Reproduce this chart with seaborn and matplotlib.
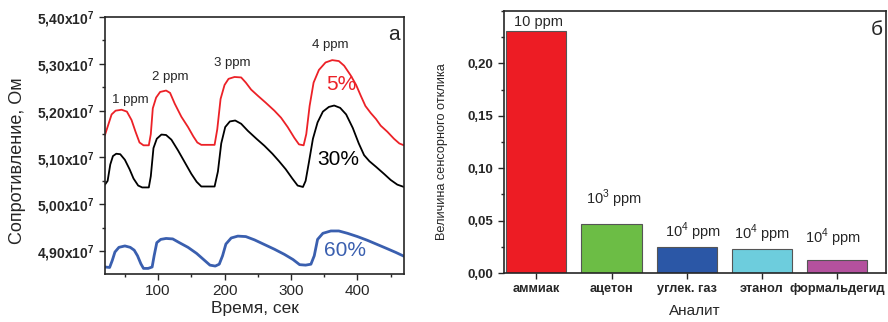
import numpy as np
import pandas as pd
import seaborn as sns
import matplotlib.pyplot as plt
from matplotlib.ticker import FixedLocator, MultipleLocator

# --- panel a: resistance vs time (values in 1e7 Ohm) ---
t_5 = [20, 25, 30, 36, 45, 53, 60, 66, 72, 78, 86, 89, 92, 97, 103, 112, 118, 125, 135, 145,
       153, 159, 165, 185, 189, 194, 200, 206, 215, 225, 232, 240, 250, 262, 275, 285, 295, 305,
       312, 319, 323, 328, 334, 342, 352, 362, 372, 380, 390, 398, 405, 412, 420, 428, 435, 445,
       455, 463, 470]
r_5 = [5.148, 5.17, 5.192, 5.200, 5.202, 5.198, 5.18, 5.155, 5.132, 5.126, 5.126, 5.15, 5.205,
       5.228, 5.240, 5.243, 5.238, 5.215, 5.187, 5.165, 5.145, 5.132, 5.127, 5.127, 5.16, 5.225,
       5.255, 5.268, 5.272, 5.271, 5.26, 5.245, 5.232, 5.217, 5.20, 5.185, 5.165, 5.142, 5.128,
       5.126, 5.150, 5.21, 5.26, 5.287, 5.303, 5.308, 5.306, 5.296, 5.275, 5.255, 5.232, 5.21,
       5.195, 5.182, 5.168, 5.155, 5.140, 5.130, 5.126]

t_30 = [20, 24, 28, 32, 37, 43, 50, 57, 63, 70, 76, 86, 89, 93, 98, 105, 112, 120, 130, 140,
        150, 158, 165, 185, 190, 195, 201, 208, 216, 225, 235, 248, 260, 272, 282, 292, 302, 310,
        318, 322, 327, 333, 340, 348, 357, 365, 374, 383, 393, 402, 410, 418, 428, 440, 450, 460,
        470]
r_30 = [5.042, 5.05, 5.085, 5.103, 5.108, 5.107, 5.095, 5.075, 5.055, 5.040, 5.036, 5.036, 5.06,
        5.12, 5.140, 5.149, 5.148, 5.138, 5.115, 5.090, 5.065, 5.048, 5.038, 5.038, 5.07, 5.13,
        5.165, 5.177, 5.179, 5.172, 5.157, 5.140, 5.125, 5.108, 5.092, 5.075, 5.055, 5.040, 5.037,
        5.05, 5.09, 5.14, 5.175, 5.198, 5.208, 5.211, 5.206, 5.192, 5.163, 5.130, 5.105, 5.092,
        5.080, 5.065, 5.052, 5.042, 5.037]

t_60 = [20, 27, 31, 35, 41, 50, 58, 64, 69, 74, 78, 85, 91, 94, 98, 104, 112, 122, 132, 145,
        158, 170, 178, 186, 192, 197, 202, 210, 220, 232, 245, 260, 275, 290, 303, 313, 322, 330,
        335, 340, 348, 360, 372, 385, 400, 415, 430, 445, 458, 470]
r_60 = [4.866, 4.865, 4.88, 4.898, 4.908, 4.911, 4.908, 4.902, 4.89, 4.873, 4.863, 4.863, 4.866,
        4.89, 4.918, 4.925, 4.927, 4.926, 4.918, 4.908, 4.895, 4.880, 4.870, 4.868, 4.872, 4.89,
        4.915, 4.928, 4.932, 4.931, 4.924, 4.914, 4.904, 4.893, 4.882, 4.871, 4.870, 4.872, 4.89,
        4.925, 4.938, 4.943, 4.943, 4.938, 4.931, 4.923, 4.914, 4.905, 4.897, 4.889]

ppm_labels = ['1 ppm', '2 ppm', '3 ppm', '4 ppm']
ppm_x = [58, 118, 212, 359]
ppm_y = [5.223, 5.272, 5.302, 5.34]

y_ticks_a = [4.90, 5.00, 5.10, 5.20, 5.30, 5.40]
y_ticklabels_a = [r'$\mathbf{4{,}90x10^{7}}$', r'$\mathbf{5{,}00x10^{7}}$', r'$\mathbf{5{,}10x10^{7}}$',
                  r'$\mathbf{5{,}20x10^{7}}$', r'$\mathbf{5{,}30x10^{7}}$', r'$\mathbf{5{,}40x10^{7}}$']

# --- panel b: sensor response ---
analytes = ['аммиак', 'ацетон', 'углек. газ', 'этанол', 'формальдегид']
response = [0.231, 0.0467, 0.0248, 0.0229, 0.0124]
conc_labels = ['10 ppm', '10$^3$ ppm', '10$^4$ ppm', '10$^4$ ppm', '10$^4$ ppm']
bar_colors = ['#ED1C24', '#6CBD45', '#2B57A6', '#6DCDDD', '#B4519E']

sns.set_style('ticks')
plt.rcParams['font.family'] = ['Liberation Sans', 'DejaVu Sans']
plt.rcParams['mathtext.fontset'] = 'custom'
plt.rcParams['mathtext.rm'] = 'Liberation Sans'
plt.rcParams['mathtext.bf'] = 'Liberation Sans:bold'
plt.rcParams['xtick.direction'] = 'out'
plt.rcParams['ytick.direction'] = 'out'

fig = plt.figure(figsize=(8.88, 3.22), dpi=100)
ax1 = fig.add_axes([0.1182, 0.149, 0.3367, 0.798])
ax2 = fig.add_axes([0.5676, 0.152, 0.430, 0.814])

sns.lineplot(x=t_5, y=r_5, ax=ax1, color='#EC2127', linewidth=1.3, estimator=None, sort=False)
sns.lineplot(x=t_30, y=r_30, ax=ax1, color='black', linewidth=1.3, estimator=None, sort=False)
sns.lineplot(x=t_60, y=r_60, ax=ax1, color='#3A5FAF', linewidth=2.0, estimator=None, sort=False)

ax1.set_xlim(20, 470)
ax1.set_ylim(4.851, 5.40)
ax1.xaxis.set_major_locator(FixedLocator([100, 200, 300, 400]))
ax1.xaxis.set_minor_locator(MultipleLocator(50))
ax1.yaxis.set_major_locator(FixedLocator(y_ticks_a))
ax1.set_yticklabels(y_ticklabels_a, fontsize=10)
ax1.yaxis.set_minor_locator(MultipleLocator(0.05))
ax1.tick_params(axis='x', labelsize=11)
ax1.tick_params(which='major', length=4, width=1)
ax1.tick_params(which='minor', length=2.5, width=1)
for s in ax1.spines.values():
    s.set_linewidth(1.2)
ax1.set_xlabel('Время, сек', fontsize=12.5, labelpad=2)
ax1.set_ylabel('Сопротивление, Ом', fontsize=13)
ax1.yaxis.set_label_coords(-0.265, 0.44)

for lab, x, y in zip(ppm_labels, ppm_x, ppm_y):
    ax1.text(x, y, lab, fontsize=9.5, ha='center', va='center')
ax1.text(376, 5.255, '5%', fontsize=15, color='#EC2127', ha='center', va='center')
ax1.text(371, 5.096, '30%', fontsize=15, color='black', ha='center', va='center')
ax1.text(382, 4.902, '60%', fontsize=15, color='#3A5FAF', ha='center', va='center')
ax1.text(455, 5.362, 'а', fontsize=15, ha='center', va='center')

df_b = pd.DataFrame({'analyte': analytes, 'response': response})
sns.barplot(data=df_b, x='analyte', y='response', hue='analyte', palette=bar_colors,
            legend=False, width=0.8, edgecolor='#555555', linewidth=0.8, saturation=1, ax=ax2)
ax2.set_xlim(-0.43, 4.65)
ax2.set_ylim(0, 0.25)
ax2.yaxis.set_major_locator(FixedLocator([0.0, 0.05, 0.10, 0.15, 0.20]))
ax2.set_yticklabels(['0,00', '0,05', '0,10', '0,15', '0,20'], fontsize=9.5, fontweight='bold')
ax2.yaxis.set_minor_locator(MultipleLocator(0.025))
ax2.set_xticks(range(len(analytes)))
ax2.set_xticklabels(analytes, fontsize=9.2, fontweight='bold')
ax2.tick_params(which='major', length=4, width=1)
ax2.tick_params(which='minor', length=2.5, width=1)
for s in ax2.spines.values():
    s.set_linewidth(1.2)
ax2.set_xlabel('Аналит', fontsize=11, labelpad=6)
ax2.set_ylabel('Величина сенсорного отклика', fontsize=9.2)
ax2.yaxis.set_label_coords(-0.147, 0.462)

label_y = [0.2395, 0.0705, 0.0395, 0.0375, 0.0335]
label_x = [0.03, 0.03, 0.08, 0.0, -0.05]
for i, (lab, ly, dx) in enumerate(zip(conc_labels, label_y, label_x)):
    ax2.text(i + dx, ly, lab, fontsize=10.5, ha='center', va='center')
ax2.text(4.53, 0.232, 'б', fontsize=15, ha='center', va='center')

fig.savefig('out.png', dpi=100)
